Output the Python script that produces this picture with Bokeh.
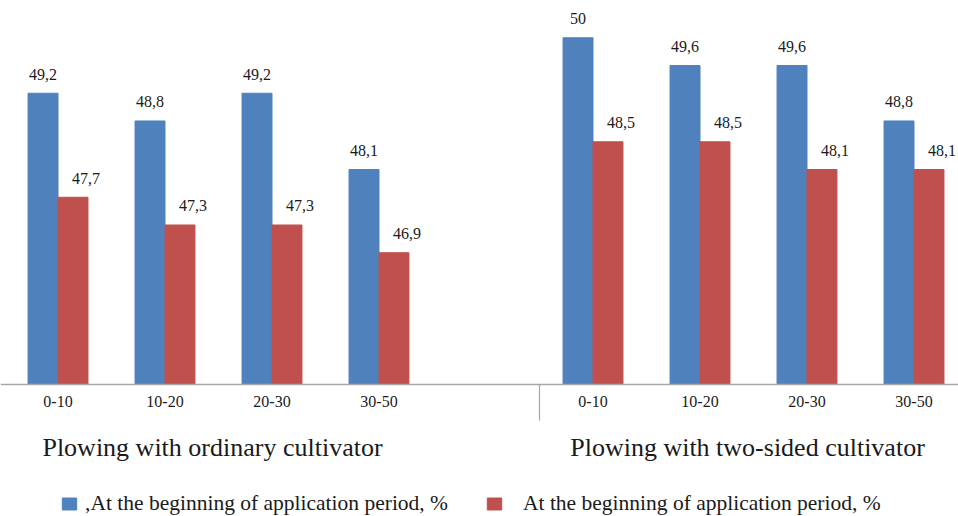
from bokeh.plotting import figure
from bokeh.models import (ColumnDataSource, Range1d, LinearAxis, FixedTicker,
                          Legend, LegendItem)
from bokeh.core.properties import value
from bokeh.transform import dodge
from bokeh.embed import file_html
from bokeh.resources import INLINE

# ---------------- data ----------------
depths = ["0-10", "10-20", "20-30", "30-50"]
groups = ["Plowing with ordinary cultivator", "Plowing with two-sided cultivator"]
blue_ordinary = [49.2, 48.8, 49.2, 48.1]
red_ordinary = [47.7, 47.3, 47.3, 46.9]
blue_two_sided = [50.0, 49.6, 49.6, 48.8]
red_two_sided = [48.5, 48.5, 48.1, 48.1]
series_labels = [",At the beginning of application period, %",
                 "At the beginning of application period, %"]
base_value = 45

BLUE = "#4F81BD"
RED = "#C0504D"
FONT = "Liberation Serif"

# category slots: group 1 at 0..3, an empty slot, group 2 after it
pos1 = list(range(len(depths)))
pos2 = [len(depths) + 1 + i for i in range(len(depths))]
positions = pos1 + pos2
blue_vals = blue_ordinary + blue_two_sided
red_vals = red_ordinary + red_two_sided


def fmt(v):
    return f"{v:g}".replace(".", ",")


src = ColumnDataSource(dict(
    x=positions,
    blue=blue_vals,
    red=red_vals,
    blue_lbl=[fmt(v) for v in blue_vals],
    red_lbl=[fmt(v) for v in red_vals],
))

W, H = 958, 516
px_per_unit = 69.35
base_px_from_top = 384
cat_px = 107.0
first_cat_px = 57.5

x_start = -first_cat_px / cat_px
x_end = (W - first_cat_px) / cat_px
y_end = base_value + base_px_from_top / px_per_unit
y_start = base_value - (H - base_px_from_top) / px_per_unit

p = figure(width=W, height=H, output_backend="svg", toolbar_location=None,
           x_range=Range1d(x_start, x_end), y_range=Range1d(y_start, y_end),
           x_axis_location=None, y_axis_location=None,
           min_border=0, min_border_left=0, min_border_right=0,
           min_border_top=0, min_border_bottom=0,
           outline_line_color=None, background_fill_color="white",
           border_fill_color="white")
p.xgrid.grid_line_color = None
p.ygrid.grid_line_color = None

bw = 0.28
rb = p.vbar(x=dodge("x", -bw / 2), top="blue", bottom=base_value, width=bw,
            source=src, fill_color=BLUE, line_color=BLUE)
rr = p.vbar(x=dodge("x", bw / 2), top="red", bottom=base_value, width=bw,
            source=src, fill_color=RED, line_color=RED)

p.text(x=dodge("x", -bw / 2), y="blue", text="blue_lbl", source=src,
       text_align="center", text_baseline="middle", y_offset=-19,
       text_font=value(FONT), text_font_size="16px", text_color="#1a1a1a")
p.text(x=dodge("x", bw / 2), y="red", text="red_lbl", source=src,
       text_align="center", text_baseline="middle", x_offset=13, y_offset=-19,
       text_font=value(FONT), text_font_size="16px", text_color="#1a1a1a")

# category axis drawn at the baseline
ax = LinearAxis(fixed_location=base_value, ticker=FixedTicker(ticks=positions),
                major_label_overrides={k: lbl for k, lbl in zip(positions, depths + depths)},
                major_tick_out=0, major_tick_in=0, minor_tick_out=0, minor_tick_in=0,
                axis_line_color="#A6A6A6", axis_line_width=1.5,
                major_label_text_font=FONT, major_label_text_font_size="16px",
                major_label_text_color="#1a1a1a", major_label_standoff=11)
p.add_layout(ax, "below")

# group separator tick
sep = pos2[0] - 0.5
ax2 = LinearAxis(fixed_location=base_value, ticker=FixedTicker(ticks=[sep]),
                 major_label_overrides={sep: ""}, major_label_text_color=None,
                 major_tick_out=36, major_tick_in=0, minor_tick_out=0, minor_tick_in=0,
                 major_tick_line_color="#A6A6A6", major_tick_line_width=1.2,
                 axis_line_color=None)
p.add_layout(ax2, "below")

# group labels
gsrc = ColumnDataSource(dict(x=[sum(pos1) / len(pos1), sum(pos2) / len(pos2)],
                             y=[base_value, base_value], t=groups))
p.text(x="x", y="y", text="t", source=gsrc, x_offset=-6, y_offset=63,
       text_align="center", text_baseline="middle",
       text_font=value(FONT), text_font_size="26px", text_color="#1a1a1a")

# legends
common = dict(orientation="horizontal", glyph_width=18, glyph_height=15,
              label_text_font=FONT, label_text_font_size="21.5px",
              label_text_color="#1a1a1a", padding=0, margin=0, spacing=0,
              border_line_color=None, background_fill_alpha=0)
leg1 = Legend(items=[LegendItem(label=value(series_labels[0]), renderers=[rb])],
              location=(60, 0), label_standoff=7, **common)
leg2 = Legend(items=[LegendItem(label=value(series_labels[1]), renderers=[rr])],
              location=(485, 0), label_standoff=20, **common)
p.add_layout(leg1)
p.add_layout(leg2)

open("out.html", "w").write(file_html(p, INLINE))
